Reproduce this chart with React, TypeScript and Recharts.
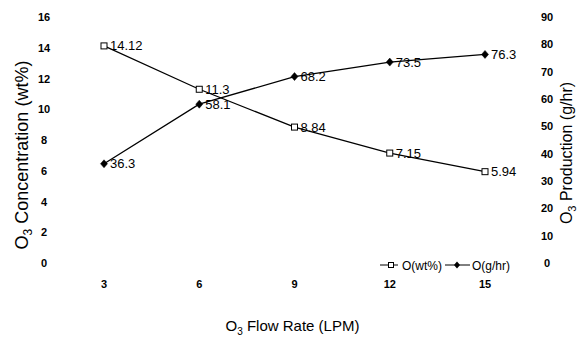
import React from 'react';
import { LineChart, Line, XAxis, YAxis, LabelList, Legend } from 'recharts';

const flowRates = ['3', '6', '9', '12', '15'];
const concentrationWt = [14.12, 11.3, 8.84, 7.15, 5.94];
const productionGhr = [36.3, 58.1, 68.2, 73.5, 76.3];
const leftTicks = [0, 2, 4, 6, 8, 10, 12, 14, 16];
const rightTicks = [0, 10, 20, 30, 40, 50, 60, 70, 80, 90];

const data = flowRates.map((f, i) => ({ flow: f, wt: concentrationWt[i], ghr: productionGhr[i] }));

const FONT = '"Liberation Sans", Arial, sans-serif';

const SquareDot = (props: any) => {
  const { cx, cy } = props;
  if (cx == null || cy == null) return null;
  return <rect x={cx - 3} y={cy - 3} width={6} height={6} fill="#fff" stroke="#000" strokeWidth={1} />;
};

const DiamondDot = (props: any) => {
  const { cx, cy } = props;
  if (cx == null || cy == null) return null;
  return <path d={`M${cx},${cy - 4}L${cx + 3.5},${cy}L${cx},${cy + 4}L${cx - 3.5},${cy}Z`} fill="#000" stroke="#000" strokeWidth={0.5} />;
};

const PointLabel = (props: any) => {
  const { x, y, value } = props;
  return (
    <text x={x + 6} y={y + 4.5} fontSize={13} fontFamily={FONT} fill="#000">
      {value}
    </text>
  );
};

const LeftTick = (props: any) => {
  const { x, y, payload } = props;
  return (
    <text x={x - 6} y={y + 4} textAnchor="middle" fontSize={11} fontWeight="bold" fontFamily={FONT} fill="#000">
      {payload.value}
    </text>
  );
};

const RightTick = (props: any) => {
  const { x, y, payload } = props;
  return (
    <text x={x + 8} y={y + 4} textAnchor="middle" fontSize={11} fontWeight="bold" fontFamily={FONT} fill="#000">
      {payload.value}
    </text>
  );
};

const BottomTick = (props: any) => {
  const { x, y, payload } = props;
  return (
    <text x={x} y={y + 17} textAnchor="middle" fontSize={11} fontWeight="bold" fontFamily={FONT} fill="#000">
      {payload.value}
    </text>
  );
};

const LegendContent = () => (
  <svg width={150} height={16} style={{ fontFamily: FONT }}>
    <line x1={3} y1={8} x2={21} y2={8} stroke="#000" strokeWidth={1} />
    <rect x={11.5} y={5.5} width={5} height={5} fill="#fff" stroke="#000" />
    <text x={25} y={12.5} fontSize={12} fill="#000">O(wt%)</text>
    <line x1={68} y1={8} x2={93} y2={8} stroke="#000" strokeWidth={1} />
    <path d="M80,4.5L83,8L80,11.5L77,8Z" fill="#000" />
    <text x={95} y={12.5} fontSize={12} fill="#000">O(g/hr)</text>
  </svg>
);

export default function App() {
  return (
    <div style={{ position: 'absolute', left: 0, top: 0, width: 581, height: 340, background: '#fff' }}>
      <LineChart width={581} height={340} data={data} margin={{ top: 17, right: 0, bottom: 0, left: 0 }}>
        <XAxis
          dataKey="flow"
          type="category"
          height={61}
          padding={{ left: 46, right: 46 }}
          axisLine={false}
          tickLine={false}
          tick={<BottomTick />}
          label={{
            content: (p: any) => {
              const vb = p.viewBox;
              const cx = vb.x + vb.width / 2 - 2;
              return (
                <text x={cx} y={331} textAnchor="middle" fontSize={15} fontFamily={FONT} fill="#000">
                  O<tspan fontSize={10} dy={4}>3</tspan>
                  <tspan dy={-4}>{'  Flow Rate (LPM)'}</tspan>
                </text>
              );
            },
          }}
        />
        <YAxis
          yAxisId="left"
          orientation="left"
          width={58}
          domain={[0, 16]}
          ticks={leftTicks}
          interval={0}
          axisLine={false}
          tickLine={false}
          tick={<LeftTick />}
          label={{
            content: () => (
              <text x={28} y={155} transform="rotate(-90 28 155)" textAnchor="middle" fontSize={18} fontFamily={FONT} fill="#000">
                O<tspan fontSize={12} dy={4}>3</tspan>
                <tspan dy={-4}>{'   Concentration (wt%)'}</tspan>
              </text>
            ),
          }}
        />
        <YAxis
          yAxisId="right"
          orientation="right"
          width={50}
          domain={[0, 90]}
          ticks={rightTicks}
          interval={0}
          axisLine={false}
          tickLine={false}
          tick={<RightTick />}
          label={{
            content: () => (
              <text x={572} y={153} transform="rotate(-90 572 153)" textAnchor="middle" fontSize={16} fontFamily={FONT} fill="#000">
                O<tspan fontSize={11} dy={4}>3</tspan>
                <tspan dy={-4}>{'  Production (g/hr)'}</tspan>
              </text>
            ),
          }}
        />
        <Legend
          content={<LegendContent />}
          wrapperStyle={{ position: 'absolute', left: 377, top: 257, width: 150, height: 16 }}
        />
        <Line
          yAxisId="left"
          dataKey="wt"
          name="O(wt%)"
          stroke="#000"
          strokeWidth={1.2}
          dot={<SquareDot />}
          activeDot={false}
          isAnimationActive={false}
        >
          <LabelList dataKey="wt" content={<PointLabel />} />
        </Line>
        <Line
          yAxisId="right"
          dataKey="ghr"
          name="O(g/hr)"
          stroke="#000"
          strokeWidth={1.3}
          dot={<DiamondDot />}
          activeDot={false}
          isAnimationActive={false}
        >
          <LabelList dataKey="ghr" content={<PointLabel />} />
        </Line>
      </LineChart>
    </div>
  );
}
